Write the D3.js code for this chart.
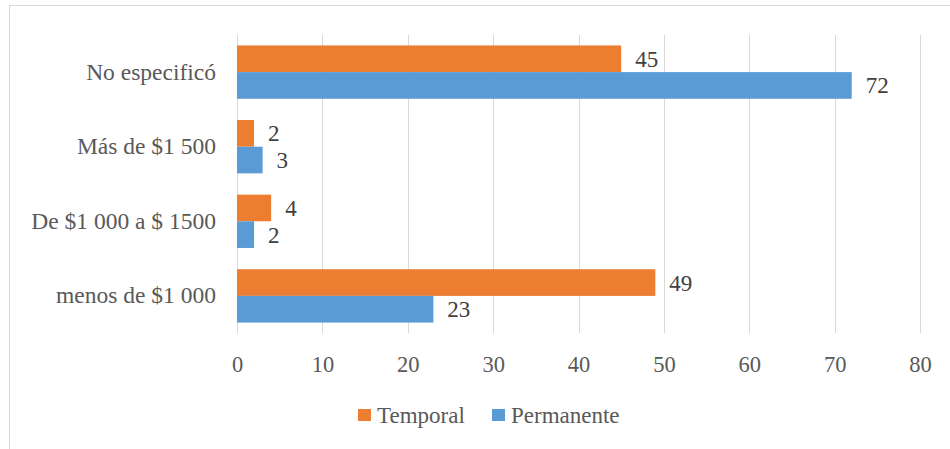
<!DOCTYPE html>
<html><head><meta charset="utf-8">
<script src="https://cdn.jsdelivr.net/npm/d3@7"></script>
<style>body{margin:0;background:#fff;} svg{display:block;} svg text{font-family:"Liberation Serif","Times New Roman",serif;}</style>
</head><body>
<svg id="c" width="950" height="449"></svg>
<script>
const categories = ["No especificó", "Más de $1 500", "De $1 000 a $ 1500", "menos de $1 000"];
const seriesNames = ["Temporal", "Permanente"];
const temporal = [45, 2, 4, 49];
const permanente = [72, 3, 2, 23];
const ticks = [0, 10, 20, 30, 40, 50, 60, 70, 80];
const colors = ["#ED7D31", "#5B9BD5"];

(function () {
const svg = d3.select("#c");
const textColor = "#595959";

svg.append("rect").attr("x", 9.5).attr("y", 5.5).attr("width", 960).attr("height", 460)
  .attr("fill", "#fff").attr("stroke", "#d9d9d9").attr("stroke-width", 1);

const pL = 237, pR = 920, pT = 35, pB = 333;
const x = d3.scaleLinear().domain([0, 80]).range([pL, pR]);
const y = d3.scaleBand().domain(categories).range([pT, pB]).paddingInner(0.285).paddingOuter(0.14);
const ys = d3.scaleBand().domain(seriesNames).range([0, y.bandwidth()]);

// gridlines
svg.append("g").selectAll("line").data(ticks).join("line")
  .attr("x1", d => Math.round(x(d)) + 0.5).attr("x2", d => Math.round(x(d)) + 0.5)
  .attr("y1", pT).attr("y2", pB)
  .attr("stroke", "#d9d9d9").attr("stroke-width", 1);

// axis labels
const xAxis = d3.axisBottom(x).tickValues(ticks).tickSize(0).tickPadding(0);
const gx = svg.append("g").attr("transform", `translate(0,${pB + 39})`).call(xAxis);
gx.select(".domain").remove();
gx.attr("font-family", null).attr("font-size", null);
gx.selectAll("text").style("font-size", "22.5px").attr("fill", textColor).attr("dy", 0);

const yAxis = d3.axisLeft(y).tickSize(0).tickPadding(21);
const gy = svg.append("g").attr("transform", `translate(${pL},0)`).call(yAxis);
gy.select(".domain").remove();
gy.attr("font-family", null).attr("font-size", null);
gy.selectAll("text").style("font-size", "23.5px").attr("fill", textColor);

const data = categories.map((c, i) => ({c, vals: [temporal[i], permanente[i]]}));
const groups = svg.append("g").selectAll("g").data(data).join("g")
  .attr("transform", d => `translate(0,${y(d.c)})`);
const bars = groups.selectAll("g").data(d => d.vals.map((v, j) => ({v, s: seriesNames[j], j}))).join("g");
bars.append("rect")
  .attr("x", x(0)).attr("y", d => ys(d.s))
  .attr("width", d => x(d.v) - x(0)).attr("height", ys.bandwidth())
  .attr("fill", d => colors[d.j]);
bars.append("text")
  .attr("x", d => x(d.v) + 14).attr("y", d => ys(d.s) + ys.bandwidth() / 2)
  .attr("dy", "0.35em")
  .style("font-size", "23px").attr("fill", "#404040")
  .text(d => d.v);

// legend
const legendX = [358, 492];
const lg = svg.append("g").selectAll("g").data(seriesNames).join("g")
  .attr("transform", (d, i) => `translate(${legendX[i]},409)`);
lg.append("rect").attr("width", 13).attr("height", 12).attr("fill", (d, i) => colors[i]);
lg.append("text").attr("x", 19).attr("y", 6).attr("dy", "0.35em")
  .style("font-size", "23px").attr("fill", textColor).text(d => d);
})();
</script>
</body></html>
